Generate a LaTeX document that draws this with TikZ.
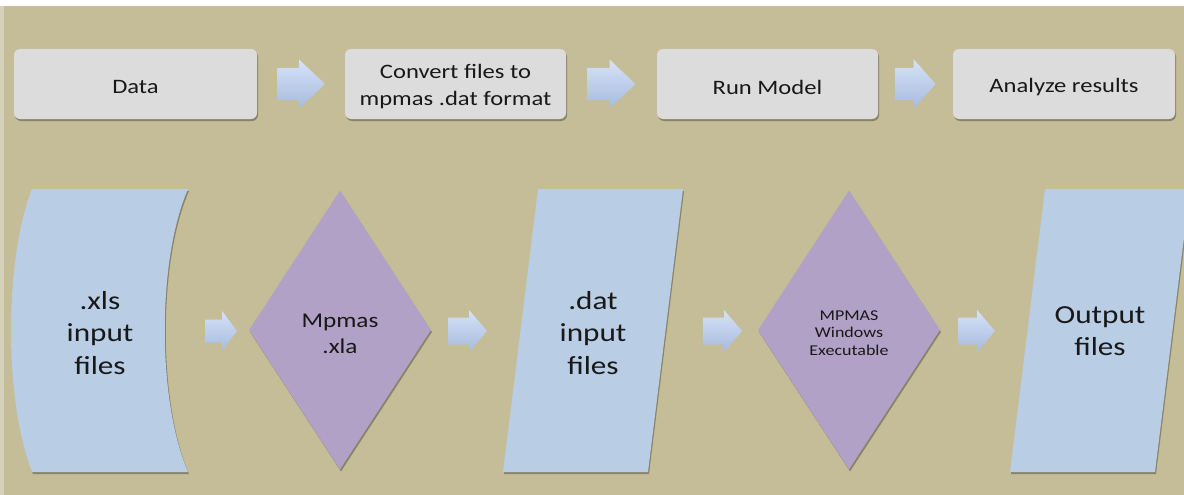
\documentclass[tikz,border=0pt]{standalone}
\usepackage{fontspec}
\setmainfont{Carlito}[FakeStretch=1.2]
\usetikzlibrary{shapes.geometric,shadows,calc}

\definecolor{bgtan}{RGB}{196,189,151}
\definecolor{bgedge}{RGB}{214,210,186}
\definecolor{stepgray}{RGB}{220,220,220}
\definecolor{fileblue}{RGB}{185,205,229}
\definecolor{toolpurple}{RGB}{178,161,199}
\definecolor{arrowtop}{RGB}{214,226,247}
\definecolor{arrowbot}{RGB}{166,187,222}
\definecolor{ink}{RGB}{24,24,24}

% block arrow centred on a coordinate:
% #1 coordinate, #2 length, #3 head length, #4 shaft height, #5 head height
\newcommand\blockarrow[5]{%
  \path[arrowfill] (#1) ++({-#2/2},{-#4/2}) -- ++({#2-#3},0)
    -- ++(0,{-(#5-#4)/2}) -- ++(#3,{#5/2}) -- ++({-#3},{#5/2})
    -- ++(0,{-(#5-#4)/2}) -- ++({#3-#2},0) -- cycle;}

\begin{document}
\begin{tikzpicture}[x=1pt,y=-1pt,
  softshadow/.style={drop shadow={shadow xshift=1pt,shadow yshift=-2pt,opacity=0.3,fill=black}},
  stepbox/.style={fill=stepgray, rounded corners=6pt, minimum height=70pt,
    inner sep=0pt, text=ink, align=center, softshadow,
    font=\fontsize{20.5}{27}\selectfont},
  steptext/.style={text=ink, align=center, inner sep=0pt,
    font=\fontsize{20.5}{27}\selectfont},
  filebox/.style={fill=fileblue, softshadow},
  toolbox/.style={diamond, fill=toolpurple, minimum width=182pt,
    minimum height=279pt, inner sep=0pt, softshadow},
  tooltext/.style={text=ink, align=center, inner sep=0pt},
  bigtext/.style={text=ink, align=center, inner sep=0pt,
    font=\fontsize{26}{32.5}\selectfont},
  arrowfill/.style={top color=arrowtop, bottom color=arrowbot, draw=none}
]
\useasboundingbox (0,0) rectangle (1184,495);
\clip (0,0) rectangle (1184,495);

% background
\fill[white] (0,0) rectangle (1184,495);
\fill[bgedge] (0,6) rectangle (4,495);
\fill[bgtan] (4,6) rectangle (1184,495);

% process steps
\node[stepbox, minimum width=243pt] (data) at (135.5,84) {};
\node[stepbox, minimum width=221pt] (conv) at (455.5,84) {};
\node[stepbox, minimum width=221pt] (run) at (767.5,84) {};
\node[stepbox, minimum width=222pt] (anal) at (1064,84) {};
\node[steptext] (datat) at ($(data.center)+(0,3)$) {Data};
\node[steptext] (convt) at ($(conv.center)+(0,3)$) {Convert files to\\mpmas .dat format};
\node[steptext] (runt) at ($(run.center)+(0,3)$) {Run Model};
\node[steptext] (analt) at ($(anal.center)+(0,3)$) {Analyze results};

\coordinate (s1) at ($(data.east)!0.5!(conv.west)$);
\coordinate (s2) at ($(conv.east)!0.5!(run.west)$);
\coordinate (s3) at ($(run.east)!0.5!(anal.west)$);
\blockarrow{s1}{48}{26}{32}{49}
\blockarrow{s2}{48}{26}{32}{49}
\blockarrow{s3}{40}{22}{32}{50}

% stored data: spreadsheets
\path[filebox] (32,189) -- (188,189) .. controls (157,260) and (157,400) .. (188,472)
  -- (32,472) .. controls (4,400) and (4,260) .. (32,189);
\node[bigtext] (xls) at (100,333) {.xls\\input\\files};

% Excel add-in
\node[toolbox] (xla) at (340,330) {};
\node[tooltext, font=\fontsize{21}{26}\selectfont] (xlat) at ($(xla.center)+(0,4)$) {Mpmas\\.xla};

% converted input
\path[filebox] (538,189) -- (683,189) -- (648,472) -- (503,472) -- cycle;
\node[bigtext] (dat) at (593,333) {.dat\\input\\files};

% model executable
\node[toolbox] (exe) at (849,330) {};
\node[tooltext, font=\fontsize{15}{17.5}\selectfont] (exet) at ($(exe.center)+(0,3)$) {MPMAS\\Windows\\Executable};

% results
\path[filebox] (1045,189) -- (1190,189) -- (1155,472) -- (1010,472) -- cycle;
\node[bigtext] (out) at (1100,331) {Output\\files};

% data flow
\coordinate (f1) at (221,331);
\coordinate (f2) at (467.5,331);
\coordinate (f3) at (722.5,331);
\coordinate (f4) at (976.5,331);
\blockarrow{f1}{32}{15}{23}{40}
\blockarrow{f2}{39}{18}{27}{42}
\blockarrow{f3}{39}{18}{27}{42}
\blockarrow{f4}{37}{18}{27}{42}
\end{tikzpicture}
\end{document}
